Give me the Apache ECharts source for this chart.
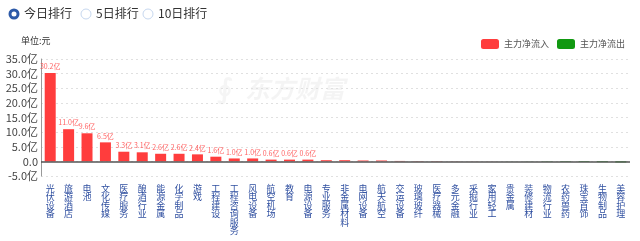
<!DOCTYPE html>
<html>
<head>
<meta charset="utf-8">
<script src="https://cdn.jsdelivr.net/npm/echarts@6/dist/echarts.min.js"></script>
<style>
  html, body { margin: 0; padding: 0; background: #fff; }
  #myChart { width: 640px; height: 241px; }
</style>
</head>
<body>
<div id="myChart"></div>
<script>
// 板块名称
var categories = ["光伏设备", "旅游酒店", "电池", "文化传媒", "医疗服务", "酿酒行业", "能源金属", "化学制品",
  "游戏", "工程建设", "工程咨询服务", "风电设备", "航空机场", "教育", "电源设备", "专业服务",
  "非金属材料", "电网设备", "航天航空", "交运设备", "玻璃玻纤", "医疗器械", "多元金融", "采掘行业",
  "家用轻工", "贵金属", "装修建材", "物流行业", "农药兽药", "珠宝首饰", "生物制品", "美容护理"];
// 主力净流入 (亿)
var inflow = [30.2, 11.0, 9.6, 6.5, 3.3, 3.1, 2.6, 2.6, 2.4, 1.6, 1.0, 1.0, 0.6, 0.6, 0.6, 0.4,
  0.4, 0.3, 0.3, 0.15, 0.1, 0.1, 0.05, 0.03, 0.02, null, null, null, null, null, null, null];
// 主力净流出 (亿)
var outflow = [null, null, null, null, null, null, null, null, null, null, null, null, null, null, null, null,
  null, null, null, null, null, null, null, null, null, -0.02, -0.04, -0.1, -0.15, -0.2, -0.25, -0.35];
var yTicks = { min: -5, max: 35, interval: 5 };
var tabs = ["今日排行", "5日排行", "10日排行"];

var mycharts = echarts.init(document.getElementById("myChart"));

var tabX = [9, 81, 143];
var graphics = [];
tabs.forEach(function (t, i) {
  graphics.push({
    type: "circle",
    shape: { cx: tabX[i] + 5, cy: 14, r: i === 0 ? 4 : 5 },
    style: { fill: "#fff", stroke: i === 0 ? "#2d5aa8" : "#c5d6ee", lineWidth: i === 0 ? 3 : 1 }
  });
  graphics.push({
    type: "text",
    left: tabX[i] + 15, top: 7,
    style: { text: t, fontSize: 12, fill: "#333", fontFamily: "Noto Sans CJK SC" }
  });
});
graphics.push({
  type: "text", left: 21, top: 36,
  style: { text: "单位:元", fontSize: 9, fill: "#333", fontFamily: "Noto Sans CJK SC" }
});
// 水印
graphics.push({
  type: "text", left: 217, top: 77, z: -1,
  style: { text: "∮", fontSize: 28, fontWeight: "bold",
    fill: "rgba(0,0,0,0.04)", fontFamily: "DejaVu Sans" }
});
graphics.push({
  type: "text", left: 245, top: 76, z: -1,
  style: { text: "东方财富", fontSize: 25, fontWeight: "bold", fontStyle: "italic",
    fill: "rgba(0,0,0,0.045)", fontFamily: "Noto Sans CJK SC" }
});

var option = {
  animation: false,
  textStyle: { fontFamily: "Noto Sans CJK SC" },
  graphic: graphics,
  legend: {
    right: 10, top: 34,
    itemWidth: 18, itemHeight: 10, itemGap: 8,
    textStyle: { fontSize: 9, color: "#555" },
    data: ["主力净流入", "主力净流出"]
  },
  grid: { left: 41, right: 10, top: 59, bottom: 65 },
  xAxis: {
    type: "category",
    data: categories,
    axisLine: { onZero: false, show: false },
    axisTick: { show: false },
    axisLabel: {
      interval: 0, margin: 8,
      fontSize: 9, lineHeight: 8.5, color: "#2f4fa0",
      formatter: function (v) { return v.split("").join("\n"); }
    }
  },
  yAxis: {
    type: "value",
    min: yTicks.min, max: yTicks.max, interval: yTicks.interval,
    axisLine: { show: true, lineStyle: { color: "#999" } },
    axisTick: { show: false },
    axisLabel: {
      fontSize: 11, color: "#444", margin: 3,
      formatter: function (v) { return v === 0 ? "0.0" : v.toFixed(1) + "亿"; }
    },
    splitLine: { lineStyle: { type: [2, 3], color: "#e0e0e0" } }
  },
  series: [
    {
      name: "主力净流入",
      type: "bar",
      stack: "flow",
      barWidth: 11,
      itemStyle: { color: "#ff3d3d" },
      label: {
        show: true, position: "top", distance: 3,
        fontSize: 7, color: "rgba(255,70,70,0.85)",
        formatter: function (p) { return p.value >= 0.5 ? p.value.toFixed(1) + "亿" : ""; }
      },
      markLine: {
        silent: true, symbol: "none", label: { show: false },
        lineStyle: { color: "#555", type: "solid", width: 1.5 },
        data: [{ yAxis: 0 }]
      },
      data: inflow
    },
    {
      name: "主力净流出",
      type: "bar",
      stack: "flow",
      barWidth: 11,
      itemStyle: { color: "#119911" },
      data: outflow
    }
  ]
};
mycharts.setOption(option);
</script>
</body>
</html>
